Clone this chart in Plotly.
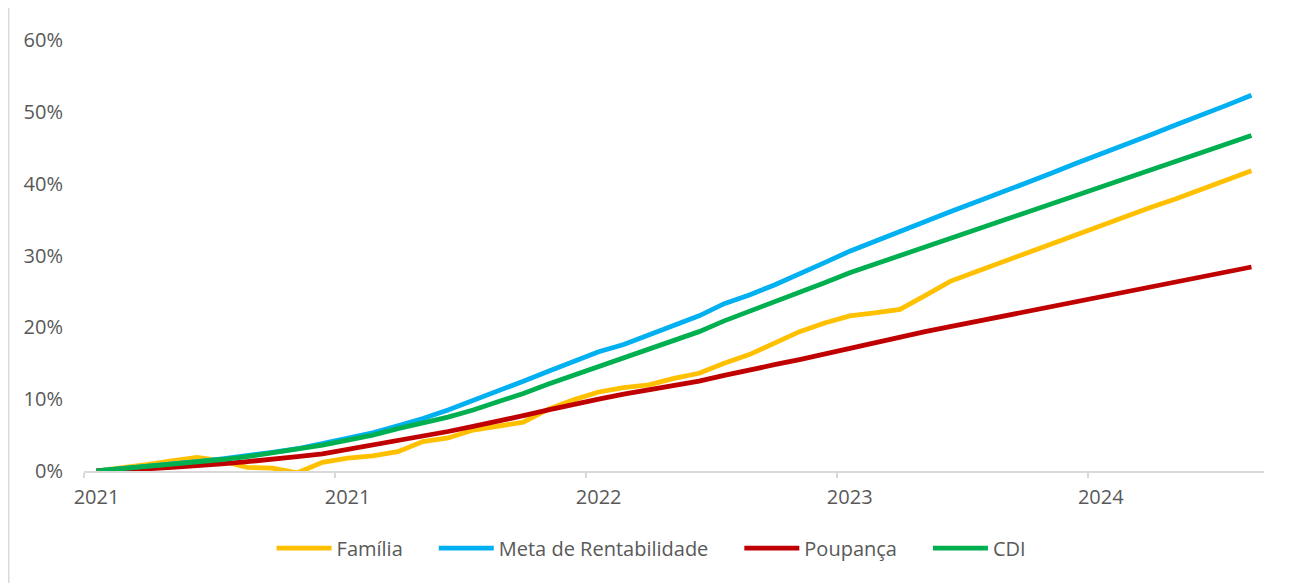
import pandas as pd
import plotly.graph_objects as go

# months Jan/2021 .. Nov/2024 (monthly, cumulative return in %)
months = list(pd.date_range("2021-01-01", periods=47, freq="MS").strftime("%Y-%m"))

familia = [
    0.0, 0.4, 0.9, 1.4, 1.9, 1.4, 0.5, 0.4, -0.25, 1.2,
    1.8, 2.1, 2.7, 4.1, 4.6, 5.7, 6.2, 6.8, 8.6, 9.9,
    11.0, 11.6, 12.0, 12.9, 13.6, 15.0, 16.2, 17.8, 19.4, 20.6,
    21.6, 22.0, 22.5, 24.4, 26.4, 27.7, 29.0, 30.3, 31.5, 32.8,
    34.1, 35.4, 36.7, 37.9, 39.2, 40.5, 41.8,
]
meta = [
    0.0, 0.3, 0.6, 0.9, 1.3, 1.7, 2.1, 2.6, 3.1, 3.8,
    4.5, 5.3, 6.3, 7.3, 8.5, 9.8, 11.1, 12.5, 13.9, 15.3,
    16.6, 17.6, 18.9, 20.2, 21.6, 23.3, 24.5, 25.9, 27.4, 29.0,
    30.6, 32.0, 33.4, 34.8, 36.1, 37.4, 38.7, 40.1, 41.4, 42.8,
    44.1, 45.5, 46.8, 48.2, 49.5, 50.9, 52.3,
]
poupanca = [
    0.0, 0.1, 0.3, 0.5, 0.7, 1.0, 1.3, 1.6, 2.0, 2.4,
    3.0, 3.6, 4.2, 4.8, 5.5, 6.2, 6.9, 7.7, 8.5, 9.3,
    10.0, 10.7, 11.3, 11.9, 12.5, 13.3, 14.1, 14.8, 15.5, 16.3,
    17.1, 17.9, 18.7, 19.4, 20.1, 20.8, 21.5, 22.2, 22.9, 23.6,
    24.2, 24.9, 25.6, 26.3, 27.0, 27.7, 28.4,
]
cdi = [
    0.0, 0.3, 0.6, 0.9, 1.2, 1.6, 2.0, 2.5, 3.0, 3.6,
    4.3, 5.0, 5.9, 6.7, 7.5, 8.5, 9.6, 10.8, 12.1, 13.3,
    14.5, 15.7, 16.9, 18.2, 19.4, 20.9, 22.2, 23.5, 24.8, 26.2,
    27.6, 28.8, 30.0, 31.2, 32.4, 33.6, 34.8, 36.0, 37.2, 38.4,
    39.5, 40.7, 41.9, 43.1, 44.3, 45.5, 46.7,
]

tick_months = ["2021-01", "2021-11", "2022-09", "2023-07", "2024-05"]
tick_labels = ["2021", "2021", "2022", "2023", "2024"]

x = list(range(len(months)))
tick_pos = [months.index(m) for m in tick_months]

series = [
    ("Família", familia, "#FFC000"),
    ("Meta de Rentabilidade", meta, "#00B0F0"),
    ("Poupança", poupanca, "#C00000"),
    ("CDI", cdi, "#00B050"),
]

# a bit of extra room after each legend entry, like the original
pad = "\u00a0" * 5

fig = go.Figure()
for name, values, color in series:
    fig.add_trace(
        go.Scatter(
            x=x,
            y=values,
            mode="lines",
            name=name + pad,
            line=dict(color=color, width=4.8),
            cliponaxis=False,
        )
    )

font = dict(family="Open Sans, sans-serif", size=20, color="#595959")

fig.update_layout(
    width=1284,
    height=575,
    margin=dict(l=76, r=28, t=32, b=112),
    paper_bgcolor="white",
    plot_bgcolor="white",
    font=font,
    showlegend=True,
    legend=dict(
        orientation="h",
        x=0.492,
        xanchor="center",
        y=-0.179,
        yanchor="middle",
        font=font,
        itemwidth=55,
    ),
    xaxis=dict(
        range=[-0.5, 46.5],
        tickmode="array",
        tickvals=tick_pos,
        ticktext=tick_labels,
        ticks="",
        ticklabelstandoff=7,
        showgrid=False,
        zeroline=False,
        showline=True,
        linecolor="#D9D9D9",
        linewidth=2,
        minor=dict(
            tickvals=[p - 0.5 for p in tick_pos],
            ticks="outside",
            ticklen=5,
            tickwidth=1.5,
            tickcolor="#D9D9D9",
            showgrid=False,
        ),
    ),
    yaxis=dict(
        range=[0, 60],
        dtick=10,
        ticksuffix="%",
        ticks="",
        ticklabelstandoff=20,
        showgrid=False,
        zeroline=False,
        showline=False,
    ),
    shapes=[
        dict(
            type="rect",
            xref="paper",
            yref="paper",
            x0=-0.0638,
            x1=1.0225,
            y0=-1,
            y1=2,
            line=dict(color="#D9D9D9", width=1.5),
            layer="below",
        )
    ],
)

fig.write_html("out.html")
